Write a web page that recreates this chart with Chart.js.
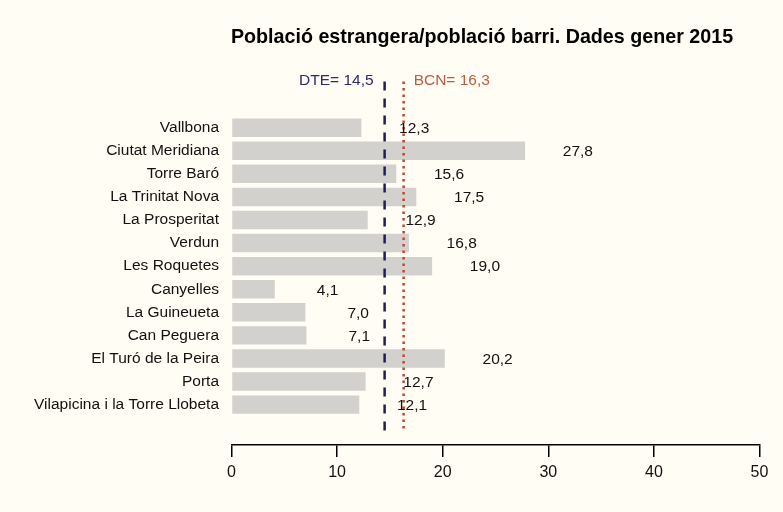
<!DOCTYPE html>
<html>
<head>
<meta charset="utf-8">
<script src="https://cdn.jsdelivr.net/npm/chart.js@4.4.1/dist/chart.umd.min.js"></script>
<style>
  html, body { margin: 0; padding: 0; background: #fffdf4; }
  #wrap { width: 783px; height: 512px; }
</style>
</head>
<body>
<div id="wrap"><canvas id="c" width="783" height="512"></canvas></div>
<script>
// ---- data ----
const categories = [
  'Vallbona', 'Ciutat Meridiana', 'Torre Baró', 'La Trinitat Nova', 'La Prosperitat',
  'Verdun', 'Les Roquetes', 'Canyelles', 'La Guineueta', 'Can Peguera',
  'El Turó de la Peira', 'Porta', 'Vilapicina i la Torre Llobeta'
];
const values = [12.3, 27.8, 15.6, 17.5, 12.9, 16.8, 19.0, 4.1, 7.0, 7.1, 20.2, 12.7, 12.1];
const refNames = ['DTE', 'BCN'];
const refValues = [14.5, 16.3];
const xTicks = [0, 10, 20, 30, 40, 50];
const titleText = 'Població estrangera/població barri. Dades gener 2015';

// ---- styling / layout constants ----
const FONT = '"Liberation Sans", Arial, Helvetica, sans-serif';
const BG = '#fffdf4';
const BAR_COLOR = '#d3d1cd';
const REF_COLORS = ['#1e1e5a', '#c0452f'];
const REF_TEXT_COLORS = ['#2a2a70', '#c25a42'];
const REF_DASH = [[9, 8], [2.5, 4]];
const Y_MIN = -2, Y_MAX = 13.12;
const LABEL_OFFSET = 5; // value labels centred 5 units right of bar end

const fmt = v => v.toFixed(1).replace('.', ',');

const bgPlugin = {
  id: 'bg',
  beforeDraw(chart) {
    const ctx = chart.ctx;
    ctx.save();
    ctx.fillStyle = BG;
    ctx.fillRect(0, 0, chart.width, chart.height);
    ctx.restore();
  }
};

const textPlugin = {
  id: 'texts',
  afterDatasetsDraw(chart) {
    const ctx = chart.ctx;
    const xs = chart.scales.x, ys = chart.scales.y;
    ctx.save();
    // title
    ctx.fillStyle = '#000';
    ctx.font = 'bold 19.7px ' + FONT;
    ctx.textAlign = 'center';
    ctx.textBaseline = 'middle';
    ctx.fillText(titleText, 482, 38);
    // value labels
    ctx.font = '15.5px ' + FONT;
    ctx.fillStyle = '#111';
    values.forEach((v, i) => {
      ctx.fillText(fmt(v), xs.getPixelForValue(v + LABEL_OFFSET), ys.getPixelForValue(i) + 1);
    });
    // reference labels
    refValues.forEach((v, k) => {
      const px = xs.getPixelForValue(v);
      ctx.fillStyle = REF_TEXT_COLORS[k];
      ctx.textAlign = k === 0 ? 'right' : 'left';
      ctx.fillText(refNames[k] + '= ' + fmt(v), k === 0 ? px - 11 : px + 10, 81);
    });
    ctx.restore();
  }
};

const datasets = [{
  type: 'bar',
  data: values.map((v, i) => ({ x: v, y: i })),
  backgroundColor: BAR_COLOR,
  borderWidth: 0,
  barPercentage: 0.8,
  categoryPercentage: 1,
  order: 2
}];
refValues.forEach((v, k) => {
  datasets.push({
    type: 'line',
    data: [{ x: v, y: Y_MIN }, { x: v, y: Y_MAX }],
    borderColor: REF_COLORS[k],
    borderWidth: 2.5,
    borderDash: REF_DASH[k],
    pointRadius: 0,
    fill: false,
    order: 1
  });
});

new Chart(document.getElementById('c'), {
  data: { datasets },
  options: {
    indexAxis: 'y',
    responsive: false,
    animation: false,
    layout: { padding: { top: 67, right: 23.5, bottom: 0, left: 0 } },
    plugins: { legend: { display: false }, tooltip: { enabled: false }, title: { display: false } },
    scales: {
      x: {
        type: 'linear',
        position: 'bottom',
        min: 0, max: 50,
        afterBuildTicks: s => { s.ticks = xTicks.map(v => ({ value: v })); },
        afterFit: s => { s.height = 67; },
        border: { display: true, color: '#000', width: 1.5 },
        grid: { drawOnChartArea: false, drawTicks: true, tickLength: 12, color: '#000', lineWidth: 1.5 },
        ticks: { color: '#111', font: { family: FONT, size: 16 }, padding: 6, maxRotation: 0 }
      },
      y: {
        type: 'linear',
        reverse: true,
        min: Y_MIN, max: Y_MAX,
        afterBuildTicks: s => { s.ticks = categories.map((_, i) => ({ value: i })); },
        afterFit: s => { s.width = 231.5; },
        border: { display: false },
        grid: { display: false, drawTicks: false, tickLength: 0 },
        ticks: {
          color: '#111',
          font: { family: FONT, size: 15.5 },
          padding: 12.5,
          autoSkip: false,
          callback: v => categories[v] !== undefined ? categories[v] : ''
        }
      }
    }
  },
  plugins: [bgPlugin, textPlugin]
});
</script>
</body>
</html>
